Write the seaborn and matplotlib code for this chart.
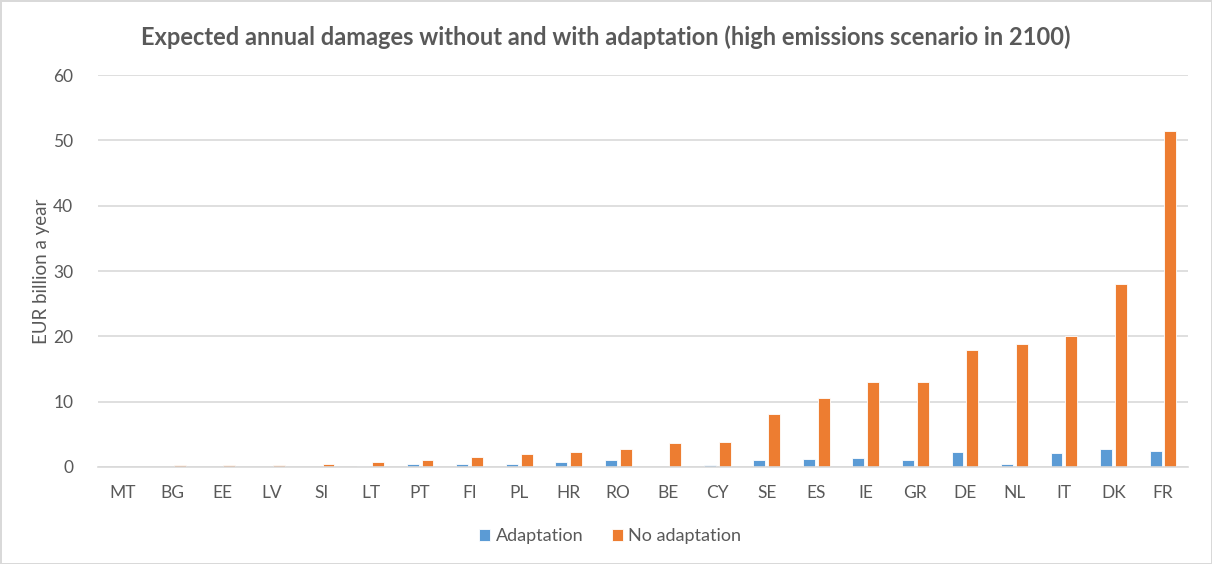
import numpy as np
import pandas as pd
import matplotlib
matplotlib.use("Agg")
import matplotlib.pyplot as plt
import seaborn as sns

# --- data ---
countries = ["MT", "BG", "EE", "LV", "SI", "LT", "PT", "FI", "PL", "HR", "RO",
             "BE", "CY", "SE", "ES", "IE", "GR", "DE", "NL", "IT", "DK", "FR"]
adaptation = [0.0, 0.05, 0.05, 0.05, 0.05, 0.2, 0.4, 0.5, 0.5, 0.7, 1.0,
              0.0, 0.35, 1.0, 1.15, 1.3, 1.0, 2.3, 0.5, 2.1, 2.8, 2.4]
no_adaptation = [0.0, 0.3, 0.3, 0.3, 0.45, 0.7, 1.1, 1.5, 1.95, 2.3, 2.75,
                 3.7, 3.9, 8.1, 10.6, 13.0, 13.0, 17.9, 18.9, 20.0, 28.0, 51.4]
series = ["Adaptation", "No adaptation"]
colors = ["#5B9BD5", "#ED7D31"]

df = pd.DataFrame({
    "country": countries * 2,
    "value": adaptation + no_adaptation,
    "series": [series[0]] * len(countries) + [series[1]] * len(countries),
})

# --- plot ---
sns.set_style("white")
plt.rcParams["font.family"] = ["Lato", "DejaVu Sans"]
grey = "#595959"

fig, ax = plt.subplots(figsize=(12.12, 5.64), dpi=100)
fig.subplots_adjust(left=0.081, right=0.980, top=0.867, bottom=0.172)
fig.patch.set_edgecolor("#D9D9D9")
fig.patch.set_linewidth(2)

sns.barplot(data=df, x="country", y="value", hue="series", order=countries,
            hue_order=series, palette=colors, width=0.6, gap=0.2,
            edgecolor="white", linewidth=0.6, ax=ax, saturation=1)

ax.set_ylim(0, 60)
ax.set_yticks(range(0, 61, 10))
ax.set_xlim(-0.5, len(countries) - 0.5)
ax.yaxis.grid(True, color="#D9D9D9", linewidth=1.2)
ax.set_axisbelow(True)
for s in ["top", "right", "left"]:
    ax.spines[s].set_visible(False)
ax.spines["bottom"].set_color("#D9D9D9")
ax.spines["bottom"].set_linewidth(1.2)
ax.tick_params(axis="both", length=0, labelsize=12.5, labelcolor=grey)
ax.tick_params(axis="x", pad=13)
ax.tick_params(axis="y", pad=18)
ax.set_xlabel("")
ax.set_ylabel("EUR billion a year", fontsize=13.5, color=grey, labelpad=2)

fig.suptitle("Expected annual damages without and with adaptation (high emissions scenario in 2100)",
             x=0.5, y=0.955, fontsize=17, fontweight="bold", color=grey)

leg = ax.legend(loc="upper center", bbox_to_anchor=(0.47, -0.115), ncol=2,
                frameon=False, fontsize=13, handlelength=0.6, handleheight=0.6,
                handletextpad=0.3, columnspacing=1.6)
for t in leg.get_texts():
    t.set_color(grey)

fig.savefig("out.png", dpi=100, edgecolor=fig.get_edgecolor())
